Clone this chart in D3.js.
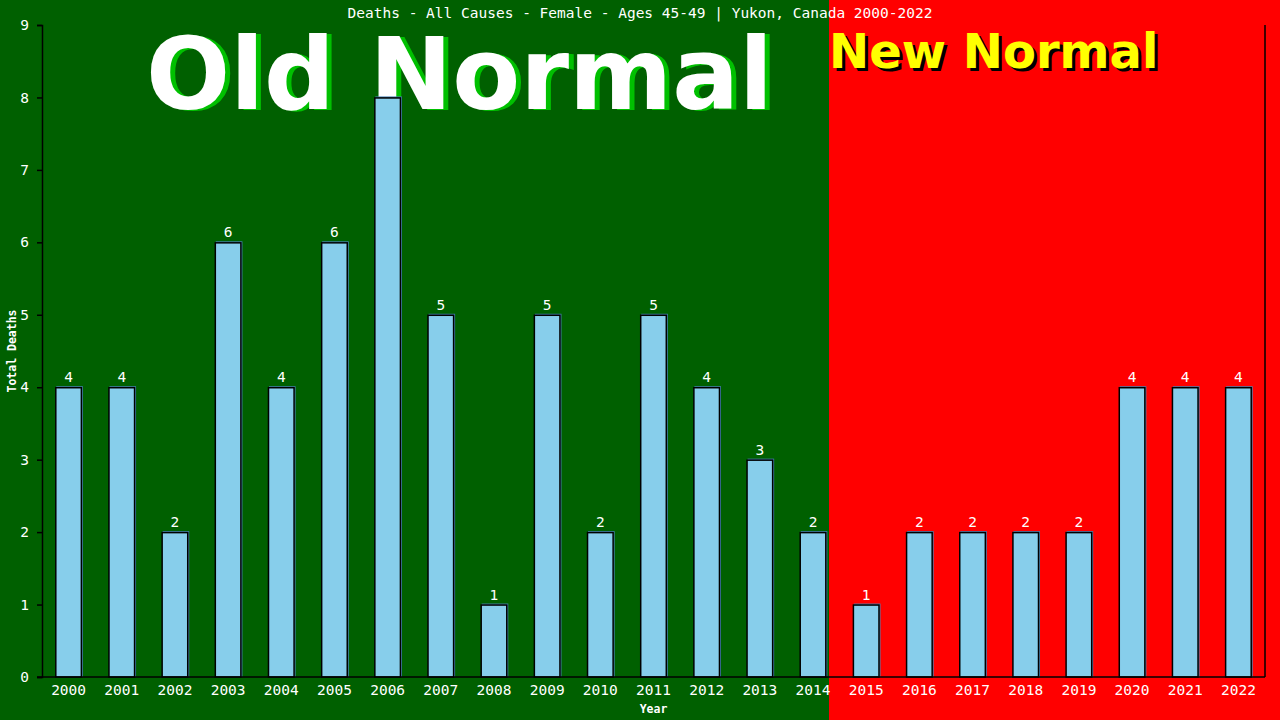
<!DOCTYPE html>
<html>
<head>
<meta charset="utf-8">
<script src="https://cdn.jsdelivr.net/npm/d3@7"></script>
<style>
  body { margin: 0; background: #006000; }
  svg { display: block; }
</style>
</head>
<body>
<svg id="chart" width="1280" height="720"></svg>
<script>
// Chart data
const years = ['2000','2001','2002','2003','2004','2005','2006','2007','2008','2009','2010','2011',
               '2012','2013','2014','2015','2016','2017','2018','2019','2020','2021','2022'];
const deaths = [4, 4, 2, 6, 4, 6, 8, 5, 1, 5, 2, 5, 4, 3, 2, 1, 2, 2, 2, 2, 4, 4, 4];
const yTicks = [0, 1, 2, 3, 4, 5, 6, 7, 8, 9];
const lastOldYear = '2014';

const MONO = 'DejaVu Sans Mono, monospace';
const BANNER = 'DejaVu Sans, sans-serif';

const svg = d3.select('#chart');
const margin = { top: 25, right: 15, bottom: 43, left: 42 };
const width = 1280, height = 720;

const x = d3.scaleBand()
    .domain(years)
    .range([margin.left, width - margin.right])
    .paddingInner(0.5)
    .paddingOuter(0.25);

const y = d3.scaleLinear()
    .domain([0, 9])
    .range([height - margin.bottom, margin.top]);

// Background halves: old normal (green) and new normal (red)
const splitX = Math.round(x(lastOldYear) + x.bandwidth() + 3);
svg.append('rect')
    .attr('x', 0).attr('y', 0)
    .attr('width', splitX).attr('height', height)
    .attr('fill', '#006000');
svg.append('rect')
    .attr('x', splitX).attr('y', 0)
    .attr('width', width - splitX).attr('height', height)
    .attr('fill', '#ff0000');

// Big banner texts (drawn under the bars)
function banner(txt, left, base, size, fill, shadow, dx, dy) {
    svg.append('text')
        .attr('x', left + dx).attr('y', base + dy)
        .attr('font-family', BANNER)
        .attr('font-weight', 'bold')
        .attr('font-size', size)
        .attr('fill', shadow)
        .text(txt);
    svg.append('text')
        .attr('x', left).attr('y', base)
        .attr('font-family', BANNER)
        .attr('font-weight', 'bold')
        .attr('font-size', size)
        .attr('fill', fill)
        .text(txt);
}
banner('Old Normal', 146, 109, 99, '#ffffff', '#00c000', 5, 1);
banner('New Normal', 829, 68, 48, '#ffff00', '#000000', 3, 3);

// Title
svg.append('text')
    .attr('x', 640).attr('y', 18)
    .attr('text-anchor', 'middle')
    .attr('font-family', MONO)
    .attr('font-size', 14.5)
    .attr('fill', '#ffffff')
    .text('Deaths - All Causes - Female - Ages 45-49 | Yukon, Canada 2000-2022');

// Bars: shadow + bar
svg.selectAll('.bar-shadow')
    .data(deaths)
    .enter()
    .append('rect')
    .attr('class', 'bar-shadow')
    .attr('x', (d, i) => x(years[i]) + 1)
    .attr('y', d => y(d) - 1)
    .attr('width', x.bandwidth())
    .attr('height', d => y(0) - y(d) + 1)
    .attr('fill', '#4682b4');

svg.selectAll('.bar')
    .data(deaths)
    .enter()
    .append('rect')
    .attr('class', 'bar')
    .attr('x', (d, i) => x(years[i]) + 0.5)
    .attr('y', d => y(d) + 0.5)
    .attr('width', x.bandwidth() - 1)
    .attr('height', d => y(0) - y(d) - 0.5)
    .attr('fill', '#87ceeb')
    .attr('stroke', '#000000')
    .attr('stroke-width', 1.5);

// Value labels
svg.selectAll('.value-label')
    .data(deaths)
    .enter()
    .append('text')
    .attr('class', 'value-label')
    .attr('x', (d, i) => x(years[i]) + x.bandwidth() / 2)
    .attr('y', d => y(d) - 5)
    .attr('text-anchor', 'middle')
    .attr('font-family', MONO)
    .attr('font-size', 14.5)
    .attr('fill', '#ffffff')
    .text(d => d);

// Axes
const yAxis = svg.append('g')
    .attr('transform', `translate(${margin.left},0)`)
    .call(d3.axisLeft(y).tickValues(yTicks).tickSize(5).tickPadding(8));
yAxis.select('.domain').attr('stroke', '#000').attr('stroke-width', 1.5);
yAxis.selectAll('.tick line').attr('stroke', '#000').attr('stroke-width', 1.5);
yAxis.selectAll('.tick text')
    .attr('fill', '#ffffff')
    .attr('font-size', 14.5)
    .attr('font-family', MONO);

const xAxis = svg.append('g')
    .attr('transform', `translate(0,${y(0)})`)
    .call(d3.axisBottom(x).tickSize(0).tickPadding(8));
xAxis.select('.domain').remove();
xAxis.selectAll('.tick text')
    .attr('fill', '#ffffff')
    .attr('font-size', 14.5)
    .attr('font-family', MONO);

// Frame lines: bottom and right
svg.append('line')
    .attr('x1', margin.left - 5).attr('x2', width - margin.right)
    .attr('y1', y(0)).attr('y2', y(0))
    .attr('stroke', '#000').attr('stroke-width', 1.5);
svg.append('line')
    .attr('x1', width - margin.right).attr('x2', width - margin.right)
    .attr('y1', margin.top).attr('y2', y(0))
    .attr('stroke', '#000').attr('stroke-width', 1.5);

// Axis titles
svg.append('text')
    .attr('transform', `translate(16,${(margin.top + y(0)) / 2}) rotate(-90)`)
    .attr('text-anchor', 'middle')
    .attr('font-family', MONO)
    .attr('font-size', 11.5)
    .attr('font-weight', 'bold')
    .attr('fill', '#ffffff')
    .text('Total Deaths');
svg.append('text')
    .attr('x', (margin.left + width - margin.right) / 2)
    .attr('y', 713)
    .attr('text-anchor', 'middle')
    .attr('font-family', MONO)
    .attr('font-size', 11.5)
    .attr('font-weight', 'bold')
    .attr('fill', '#ffffff')
    .text('Year');
</script>
</body>
</html>
